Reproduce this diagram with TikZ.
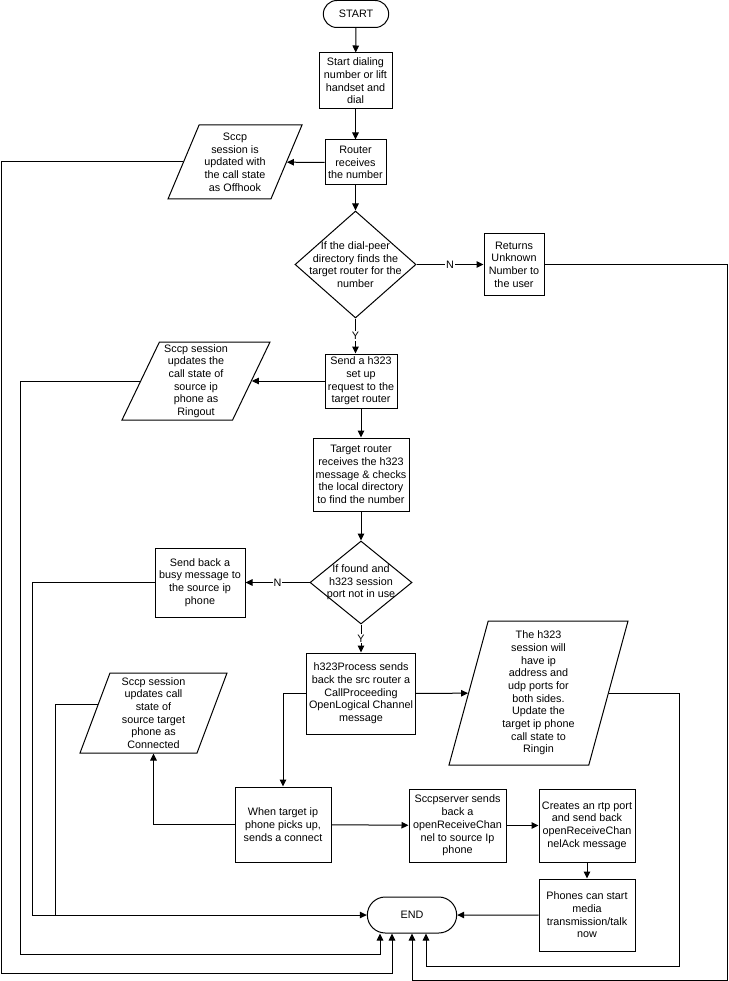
\documentclass[tikz,border=0pt]{standalone}
\usepackage{fontspec}
\setmainfont{Liberation Sans}
\usetikzlibrary{shapes.geometric,shapes.misc,arrows.meta}

\begin{document}
\begin{tikzpicture}[x=1pt, y=-1pt,
    font=\fontsize{10.8}{12.7}\selectfont,
    line width=1pt,
    term/.style={rounded rectangle, draw, minimum height=27pt},
    proc/.style={rectangle, draw, align=center, inner sep=1pt},
    io/.style={trapezium, draw, trapezium stretches=true, inner sep=1pt},
    decision/.style={diamond, draw, inner sep=1pt},
    txt/.style={align=center},
    flow/.style={-{Triangle[length=7pt, width=6.5pt]}},
    yn/.style={fill=white, inner sep=1pt}]
    \useasboundingbox (0,0) rectangle (728,981);

    \node [term, minimum width=72pt] (start) at (356,14) {START};
    \node [proc, minimum width=73pt, minimum height=56pt] (dial) at (355.5,81) {Start dialing\\number or lift\\handset and\\dial};
    \node [proc, minimum width=61pt, minimum height=45pt] (router) at (355.5,162.5) {Router\\receives\\the number};
    \node [io, trapezium left angle=66.6, trapezium right angle=113.4, minimum width=134pt, minimum height=74pt,
        label={[txt]center:{Sccp\\session is\\updated with\\the call state\\as Offhook}}] (offhook) at (235,162) {};
    \node [decision, minimum width=121pt, minimum height=107pt,
        label={[txt]center:{If the dial-peer\\directory finds the\\target router for the\\number}}] (peer) at (355.5,264.5) {};
    \node [proc, minimum width=60pt, minimum height=61pt] (returns) at (514,264.5) {Returns\\Unknown\\Number to\\the user};
    \node [proc, minimum width=72pt, minimum height=54pt] (setup) at (361,381) {Send a h323\\set up\\request to the\\target router};
    \node [io, trapezium left angle=62.9, trapezium right angle=117.1, minimum width=148pt, minimum height=78pt,
        label={[txt]center:{Sccp session\\updates the\\call state of\\source ip\\phone as\\Ringout}}] (ringout) at (196,381) {};
    \node [proc, minimum width=96pt, minimum height=73pt] (target) at (361,474.5) {Target router\\receives the h323\\message \& checks\\the local directory\\to find the number};
    \node [decision, minimum width=102pt, minimum height=83pt,
        label={[txt]center:{If found and\\h323 session\\port not in use}}] (found) at (361,582.5) {};
    \node [proc, minimum width=90pt, minimum height=69pt] (busy) at (200,582.5) {Send back a\\busy message to\\the source ip\\phone};
    \node [proc, minimum width=109pt, minimum height=81pt] (process) at (361,693.5) {h323Process sends\\back the src router a\\CallProceeding\\OpenLogical Channel\\message};
    \node [io, trapezium left angle=68.7, trapezium right angle=111.3, minimum width=179pt, minimum height=144pt,
        label={[txt]center:{The h323\\session will\\have ip\\address and\\udp ports for\\both sides.\\Update the\\target ip phone\\call state to\\Ringin}}] (ringin) at (538.5,693) {};
    \node [io, trapezium left angle=71, trapezium right angle=109, minimum width=147pt, minimum height=80pt,
        label={[txt]center:{Sccp session\\updates call\\state of\\source target\\phone as\\Connected}}] (connected) at (153.5,713) {};
    \node [proc, minimum width=96pt, minimum height=75pt] (pickup) at (283,824.5) {When target ip\\phone picks up,\\sends a connect};
    \node [proc, minimum width=97pt, minimum height=73pt] (sccpserver) at (457.5,825.5) {Sccpserver sends\\back a\\openReceiveChan\\nel to source Ip\\phone};
    \node [proc, minimum width=96pt, minimum height=73pt] (creates) at (587,825.5) {Creates an rtp port\\and send back\\openReceiveChan\\nelAck message};
    \node [proc, minimum width=96pt, minimum height=72pt] (phones) at (587,915) {Phones can start\\media\\transmission/talk\\now};
    \node [term, minimum width=96pt, minimum height=36pt] (end) at (412,915) {END};

    \draw [flow] (start) -- (dial);
    \draw [flow] (dial) -- (router);
    \draw [flow] (router) -- (offhook);
    \draw [flow] (router) -- (peer);
    \draw [flow] (peer) -- node [yn] {N} (returns);
    \draw [flow] (peer.south) -- node [yn] {Y} (peer.south |- setup.north);
    \draw [flow] (setup) -- (ringout);
    \draw [flow] (setup) -- (target);
    \draw [flow] (target) -- (found);
    \draw [flow] (found) -- node [yn] {N} (busy);
    \draw [flow] (found) -- node [yn] {Y} (process);
    \draw [flow] (process) -- (ringin);
    \draw [flow] (process.west) -| (pickup.north);
    \draw [flow] (pickup.west) -| (connected.south);
    \draw [flow] (pickup) -- (sccpserver);
    \draw [flow] (sccpserver) -- (creates);
    \draw [flow] (creates) -- (phones);
    \draw [flow] (phones) -- (end);

    % round the outside into END
    \draw [flow] (busy.west) -| (32,915) -- (end.west);
    \draw (connected.171) -| (55,915);
    \draw [flow] (offhook.west) -| (1,973) -| ([xshift=-20pt]end.south);
    \draw [flow] (ringout.west) -| (20,954) -| ([xshift=-32pt]end.south);
    \draw [flow] (returns.east) -| (727,980) -| (end.south);
    \draw [flow] (ringin.east) -| (679,966) -| ([xshift=14pt]end.south);
\end{tikzpicture}
\end{document}
